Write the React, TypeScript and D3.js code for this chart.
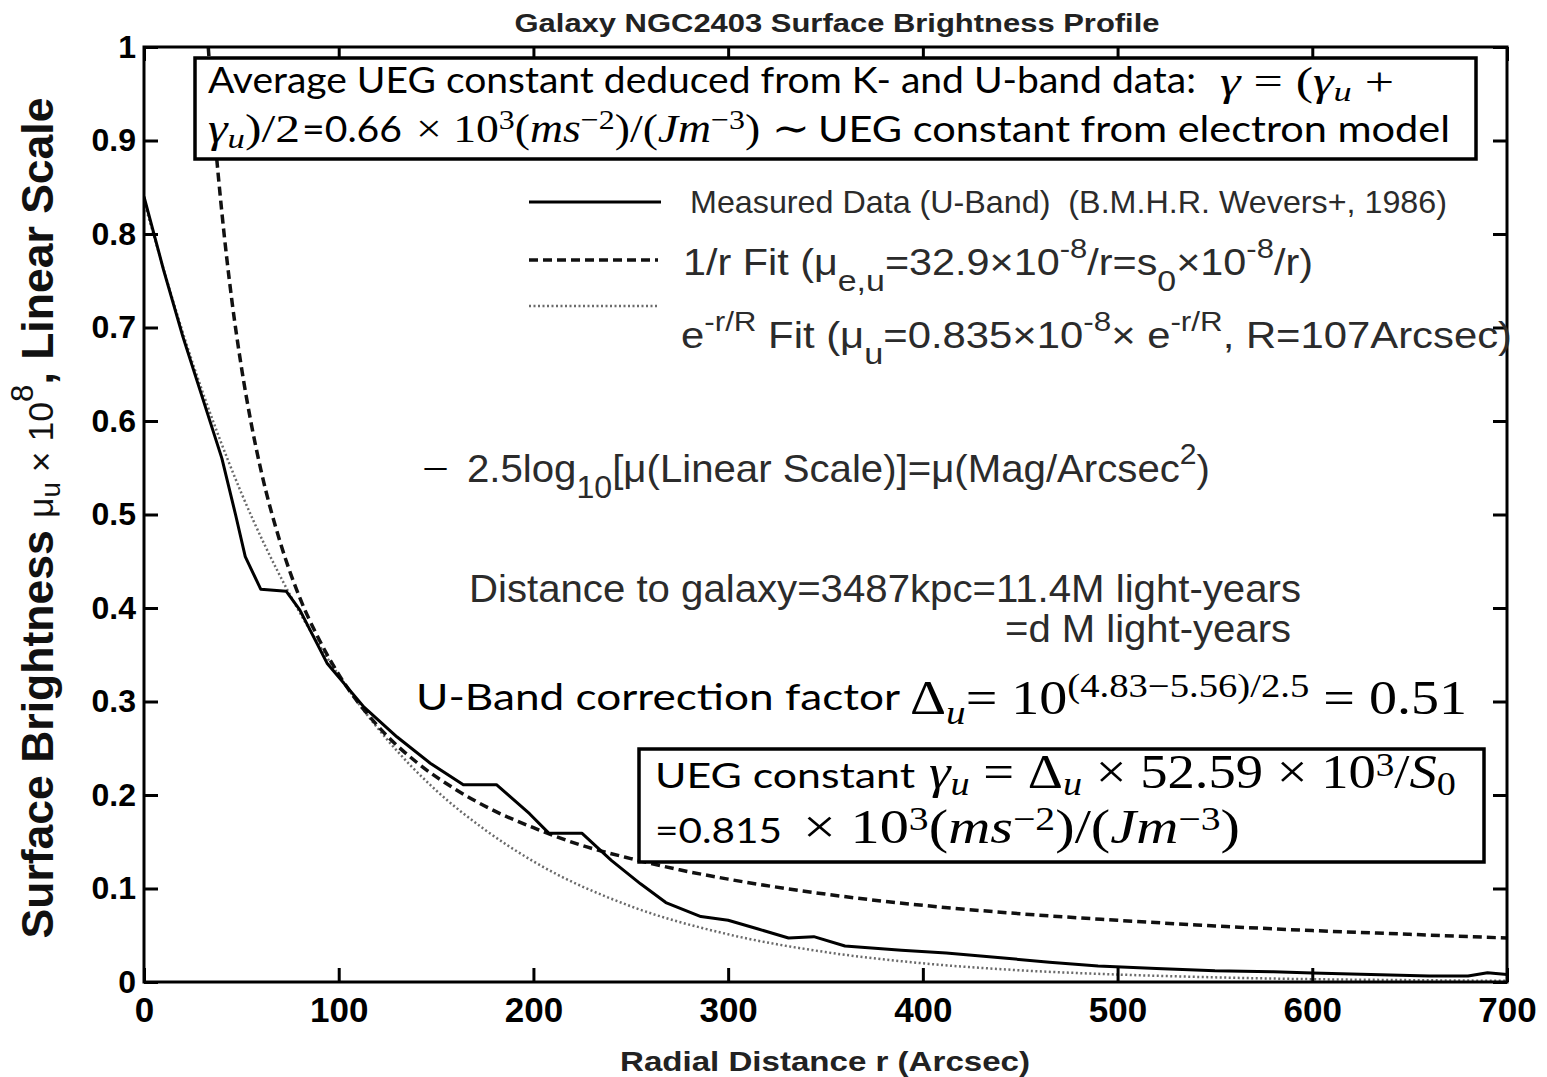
import React, { useRef, useEffect } from "react";
import * as d3 from "d3";

// measured U-band profile (Wevers 1986)
const measR = [0, 10, 20, 30, 40, 47, 52, 60, 73, 80, 94, 113, 130, 147, 164, 181, 198, 208, 225, 240, 255, 268, 286, 300, 315, 331, 344, 360, 389, 412, 440, 465, 490, 520, 550, 580, 600, 640, 660, 680, 690, 700];
const measMu = [0.84, 0.762, 0.69, 0.625, 0.56, 0.5, 0.455, 0.42, 0.418, 0.398, 0.341, 0.294, 0.262, 0.234, 0.211, 0.211, 0.18, 0.159, 0.159, 0.13, 0.105, 0.085, 0.07, 0.066, 0.057, 0.047, 0.0485, 0.0385, 0.034, 0.031, 0.026, 0.021, 0.017, 0.0145, 0.012, 0.011, 0.0096, 0.0075, 0.0064, 0.0064, 0.01, 0.008];

// 1/r fit (dashed)
const invR = [33, 36, 40, 45, 50, 55, 60, 70, 80, 90, 100, 120, 140, 160, 180, 200, 225, 250, 275, 300, 350, 400, 450, 500, 550, 600, 650, 700];
const invMu = [1.0, 0.914, 0.823, 0.731, 0.658, 0.598, 0.548, 0.47, 0.411, 0.366, 0.329, 0.274, 0.235, 0.206, 0.183, 0.165, 0.146, 0.132, 0.12, 0.11, 0.094, 0.082, 0.073, 0.066, 0.06, 0.055, 0.051, 0.047];

// exponential fit (dotted)
const expR = [0, 25, 50, 75, 100, 125, 150, 175, 200, 250, 300, 350, 400, 450, 500, 550, 600, 650, 700];
const expMu = [0.835, 0.662, 0.523, 0.414, 0.328, 0.259, 0.205, 0.163, 0.129, 0.081, 0.051, 0.032, 0.02, 0.0125, 0.008, 0.005, 0.003, 0.002, 0.0012];

const xTicks = [0, 100, 200, 300, 400, 500, 600, 700];
const yTicks = [0, 0.1, 0.2, 0.3, 0.4, 0.5, 0.6, 0.7, 0.8, 0.9, 1];

const ARIAL = "'Liberation Sans', Arial, sans-serif";
const CAL = "Lato, 'Open Sans', sans-serif";
const MATH = "'Liberation Serif', 'DejaVu Serif', serif";

// rich text helper: segments with sub/sup and italics; len stretches the run to the measured width
const rich = (g, x, y, segs, fs, family, opts = {}) => {
  const t = g
    .append("text")
    .attr("x", x)
    .attr("y", y)
    .attr("font-size", fs)
    .attr("font-family", family)
    .attr("fill", opts.fill || "#000")
    .attr("text-anchor", opts.anchor || "start")
    .style("white-space", "pre");
  if (opts.weight) t.attr("font-weight", opts.weight);
  if (opts.transform) t.attr("transform", opts.transform);
  if (opts.len) t.attr("textLength", opts.len).attr("lengthAdjust", "spacingAndGlyphs");
  let shift = 0;
  segs.forEach((s) => {
    const sz = s.k ? fs * s.k : s.s ? fs * 0.68 : fs;
    const target = s.s === "sup" ? -(s.up || 0.4) * fs : s.s === "sub" ? (s.low || 0.2) * fs : 0;
    const ts = t.append("tspan").attr("dy", target - shift).attr("font-size", sz).text(s.t);
    shift = target;
    if (s.it) ts.attr("font-style", "italic");
    if (s.w) ts.attr("font-weight", s.w);
  });
  return t;
};

const App = () => {
  const svgRef = useRef();
  const width = 1547;
  const height = 1077;
  const plot = { left: 144, right: 1507, top: 47, bottom: 982 };

  useEffect(() => {
    const x = d3.scaleLinear().domain([0, 700]).range([plot.left, plot.right]);
    const y = d3.scaleLinear().domain([0, 1]).range([plot.bottom, plot.top]);

    const svg = d3.select(svgRef.current);
    svg.selectAll("*").remove();

    svg.append("rect").attr("width", width).attr("height", height).attr("fill", "#fff");

    svg
      .append("defs")
      .append("clipPath")
      .attr("id", "plotclip")
      .append("rect")
      .attr("x", plot.left)
      .attr("y", plot.top)
      .attr("width", plot.right - plot.left)
      .attr("height", plot.bottom - plot.top);

    const lines = svg.append("g").attr("clip-path", "url(#plotclip)");
    const line = d3
      .line()
      .x((d) => x(d[0]))
      .y((d) => y(d[1]));

    const dotted = { stroke: "#6a6a6a", width: 2.5, dash: "2,2.5" };
    const dashed = { stroke: "#111", width: 3.5, dash: "9,5" };

    // exp fit, dotted grey
    lines
      .append("path")
      .attr("d", line.curve(d3.curveMonotoneX)(expR.map((r, i) => [r, expMu[i]])))
      .attr("fill", "none")
      .attr("stroke", dotted.stroke)
      .attr("stroke-width", dotted.width)
      .attr("stroke-dasharray", dotted.dash);

    // 1/r fit, dashed
    lines
      .append("path")
      .attr("d", line.curve(d3.curveMonotoneX)(invR.map((r, i) => [r, invMu[i]])))
      .attr("fill", "none")
      .attr("stroke", dashed.stroke)
      .attr("stroke-width", dashed.width)
      .attr("stroke-dasharray", dashed.dash);

    // measured data, solid
    lines
      .append("path")
      .attr("d", line.curve(d3.curveLinear)(measR.map((r, i) => [r, measMu[i]])))
      .attr("fill", "none")
      .attr("stroke", "#000")
      .attr("stroke-width", 3)
      .attr("stroke-linejoin", "round");

    // axes, MATLAB style: inward ticks on all four sides
    const tick = 14;
    const gx = svg
      .append("g")
      .attr("transform", `translate(0,${plot.bottom})`)
      .call(d3.axisBottom(x).tickValues(xTicks).tickSizeInner(-tick).tickSizeOuter(0).tickPadding(15).tickFormat(d3.format("d")));
    const gy = svg
      .append("g")
      .attr("transform", `translate(${plot.left},0)`)
      .call(d3.axisLeft(y).tickValues(yTicks).tickSizeInner(-tick).tickSizeOuter(0).tickPadding(8).tickFormat((d) => String(d)));
    const gt = svg
      .append("g")
      .attr("transform", `translate(0,${plot.top})`)
      .call(d3.axisTop(x).tickValues(xTicks).tickSizeInner(-tick).tickSizeOuter(0).tickFormat(() => ""));
    const gr = svg
      .append("g")
      .attr("transform", `translate(${plot.right},0)`)
      .call(d3.axisRight(y).tickValues(yTicks).tickSizeInner(-tick).tickSizeOuter(0).tickFormat(() => ""));
    [gx, gy, gt, gr].forEach((g) => {
      g.select(".domain").remove();
      g.selectAll(".tick line").attr("stroke", "#000").attr("stroke-width", 3);
      g.selectAll(".tick text").attr("font-family", ARIAL).attr("font-weight", "bold").attr("fill", "#000");
    });
    gx.selectAll(".tick text").attr("font-size", 35);
    gy.selectAll(".tick text").attr("font-size", 32);

    // annotation boxes (white, drawn over the curves)
    svg
      .append("rect")
      .attr("x", 195)
      .attr("y", 58)
      .attr("width", 1281)
      .attr("height", 101)
      .attr("fill", "#fff")
      .attr("stroke", "#000")
      .attr("stroke-width", 3.5);
    svg
      .append("rect")
      .attr("x", 639)
      .attr("y", 749)
      .attr("width", 845)
      .attr("height", 113)
      .attr("fill", "#fff")
      .attr("stroke", "#000")
      .attr("stroke-width", 3.5);

    svg
      .append("rect")
      .attr("x", plot.left)
      .attr("y", plot.top)
      .attr("width", plot.right - plot.left)
      .attr("height", plot.bottom - plot.top)
      .attr("fill", "none")
      .attr("stroke", "#000")
      .attr("stroke-width", 3);

    // title and axis labels
    rich(svg, 837, 32, [{ t: "Galaxy NGC2403 Surface Brightness Profile" }], 26.5, ARIAL, { anchor: "middle", weight: "bold", fill: "#222", len: 645 });
    rich(svg, 825, 1071, [{ t: "Radial Distance r (Arcsec)" }], 28, ARIAL, { anchor: "middle", weight: "bold", fill: "#222", len: 410 });
    rich(
      svg,
      0,
      0,
      [
        { t: "Surface Brightness " },
        { t: "μ", w: "normal", k: 0.8 },
        { t: "u", s: "sub", w: "normal", k: 0.62, low: 0.15 },
        { t: " × 10", w: "normal", k: 0.8 },
        { t: "8", s: "sup", w: "normal", k: 0.7, up: 0.45 },
        { t: ", Linear Scale" },
      ],
      44.5,
      ARIAL,
      { anchor: "middle", transform: "translate(53,518) rotate(-90)", fill: "#111", weight: "bold", len: 841 }
    );

    // legend
    const leg = svg.append("g");
    leg.append("line").attr("x1", 529).attr("x2", 661).attr("y1", 202).attr("y2", 202).attr("stroke", "#000").attr("stroke-width", 3);
    leg.append("line").attr("x1", 529).attr("x2", 658).attr("y1", 260).attr("y2", 260).attr("stroke", dashed.stroke).attr("stroke-width", dashed.width).attr("stroke-dasharray", dashed.dash);
    leg.append("line").attr("x1", 529).attr("x2", 658).attr("y1", 306).attr("y2", 306).attr("stroke", dotted.stroke).attr("stroke-width", dotted.width).attr("stroke-dasharray", dotted.dash);

    const grey = "#2b2b2b";
    rich(leg, 690, 213, [{ t: "Measured Data (U-Band)  (B.M.H.R. Wevers+, 1986)" }], 32, ARIAL, { fill: grey, len: 757 });
    rich(
      leg,
      683,
      275,
      [
        { t: "1/r Fit (μ" },
        { t: "e,u", s: "sub", k: 0.82, low: 0.42 },
        { t: "=32.9×10" },
        { t: "-8", s: "sup", k: 0.75, up: 0.45 },
        { t: "/r=s" },
        { t: "0", s: "sub", k: 0.82, low: 0.42 },
        { t: "×10" },
        { t: "-8", s: "sup", k: 0.75, up: 0.45 },
        { t: "/r)" },
      ],
      37,
      ARIAL,
      { fill: grey, len: 630 }
    );
    rich(
      leg,
      681,
      348,
      [
        { t: "e" },
        { t: "-r/R", s: "sup", k: 0.75, up: 0.45 },
        { t: " Fit (μ" },
        { t: "u", s: "sub", k: 0.82, low: 0.42 },
        { t: "=0.835×10" },
        { t: "-8", s: "sup", k: 0.75, up: 0.45 },
        { t: "× e" },
        { t: "-r/R", s: "sup", k: 0.75, up: 0.45 },
        { t: ", R=107Arcsec)" },
      ],
      37,
      ARIAL,
      { fill: grey, len: 831 }
    );

    // free annotations
    rich(svg, 422, 482, [{ t: "−" }], 40, MATH, { len: 27 });
    rich(
      svg,
      467,
      482,
      [{ t: "2.5log" }, { t: "10", s: "sub", k: 0.8, low: 0.42 }, { t: "[μ(Linear Scale)]=μ(Mag/Arcsec" }, { t: "2", s: "sup", k: 0.75, up: 0.45 }, { t: ")" }],
      39,
      ARIAL,
      { fill: grey, len: 743 }
    );
    rich(svg, 469, 602, [{ t: "Distance to galaxy=3487kpc=11.4M light-years" }], 38, ARIAL, { fill: grey, len: 832 });
    rich(svg, 1005, 642, [{ t: "=d M light-years" }], 38, ARIAL, { fill: grey, len: 286 });

    rich(svg, 416, 710, [{ t: "U-Band correction factor" }], 37.5, CAL, { len: 484 });
    rich(
      svg,
      910,
      714,
      [
        { t: "Δ" },
        { t: "u", s: "sub", it: true, k: 0.7, low: 0.2 },
        { t: "= 10" },
        { t: "(4.83−5.56)/2.5", s: "sup", k: 0.69, up: 0.36 },
        { t: " = 0.51" },
      ],
      48,
      MATH,
      { len: 557 }
    );

    // box 1 text
    rich(svg, 208, 93, [{ t: "Average UEG constant deduced from K- and U-band data:" }], 37.5, CAL, { len: 988 });
    rich(
      svg,
      1220,
      95,
      [{ t: "γ", it: true }, { t: " = (" }, { t: "γ", it: true }, { t: "u", s: "sub", it: true, k: 0.7, low: 0.15 }, { t: " +" }],
      40,
      MATH,
      { len: 174 }
    );
    rich(svg, 208, 142, [{ t: "γ", it: true }, { t: "u", s: "sub", it: true, k: 0.7, low: 0.15 }, { t: ")/2" }], 40, MATH, { len: 92 });
    rich(svg, 302, 142, [{ t: "=0.66" }], 37.5, CAL, { len: 100 });
    rich(
      svg,
      416,
      142,
      [
        { t: "× 10" },
        { t: "3", s: "sup", k: 0.7, up: 0.32 },
        { t: "(" },
        { t: "ms", it: true },
        { t: "−2", s: "sup", k: 0.7, up: 0.32 },
        { t: ")/(" },
        { t: "Jm", it: true },
        { t: "−3", s: "sup", k: 0.7, up: 0.32 },
        { t: ") ∼" },
      ],
      40,
      MATH,
      { len: 394 }
    );
    rich(svg, 818, 142, [{ t: "UEG constant from electron model" }], 37.5, CAL, { len: 632 });

    // box 2 text
    rich(svg, 655, 788, [{ t: "UEG constant" }], 35, CAL, { len: 260 });
    rich(
      svg,
      929,
      788,
      [
        { t: "γ", it: true },
        { t: "u", s: "sub", it: true, k: 0.7, low: 0.15 },
        { t: " = Δ" },
        { t: "u", s: "sub", it: true, k: 0.7, low: 0.15 },
        { t: " × 52.59 × 10" },
        { t: "3", s: "sup", k: 0.68, up: 0.25 },
        { t: "/" },
        { t: "S", it: true },
        { t: "0", s: "sub", k: 0.7, low: 0.15 },
      ],
      48,
      MATH,
      { len: 527 }
    );
    rich(svg, 655, 843, [{ t: "=0.815" }], 35, CAL, { len: 127 });
    rich(
      svg,
      803,
      843,
      [
        { t: "× 10" },
        { t: "3", s: "sup", k: 0.68, up: 0.28 },
        { t: "(" },
        { t: "ms", it: true },
        { t: "−2", s: "sup", k: 0.68, up: 0.28 },
        { t: ")/(" },
        { t: "Jm", it: true },
        { t: "−3", s: "sup", k: 0.68, up: 0.28 },
        { t: ")" },
      ],
      48,
      MATH,
      { len: 437 }
    );
  }, []);

  return (
    <div style={{ position: "absolute", left: 0, top: 0 }}>
      <svg ref={svgRef} width={width} height={height} style={{ display: "block" }}></svg>
    </div>
  );
};

export default App;
